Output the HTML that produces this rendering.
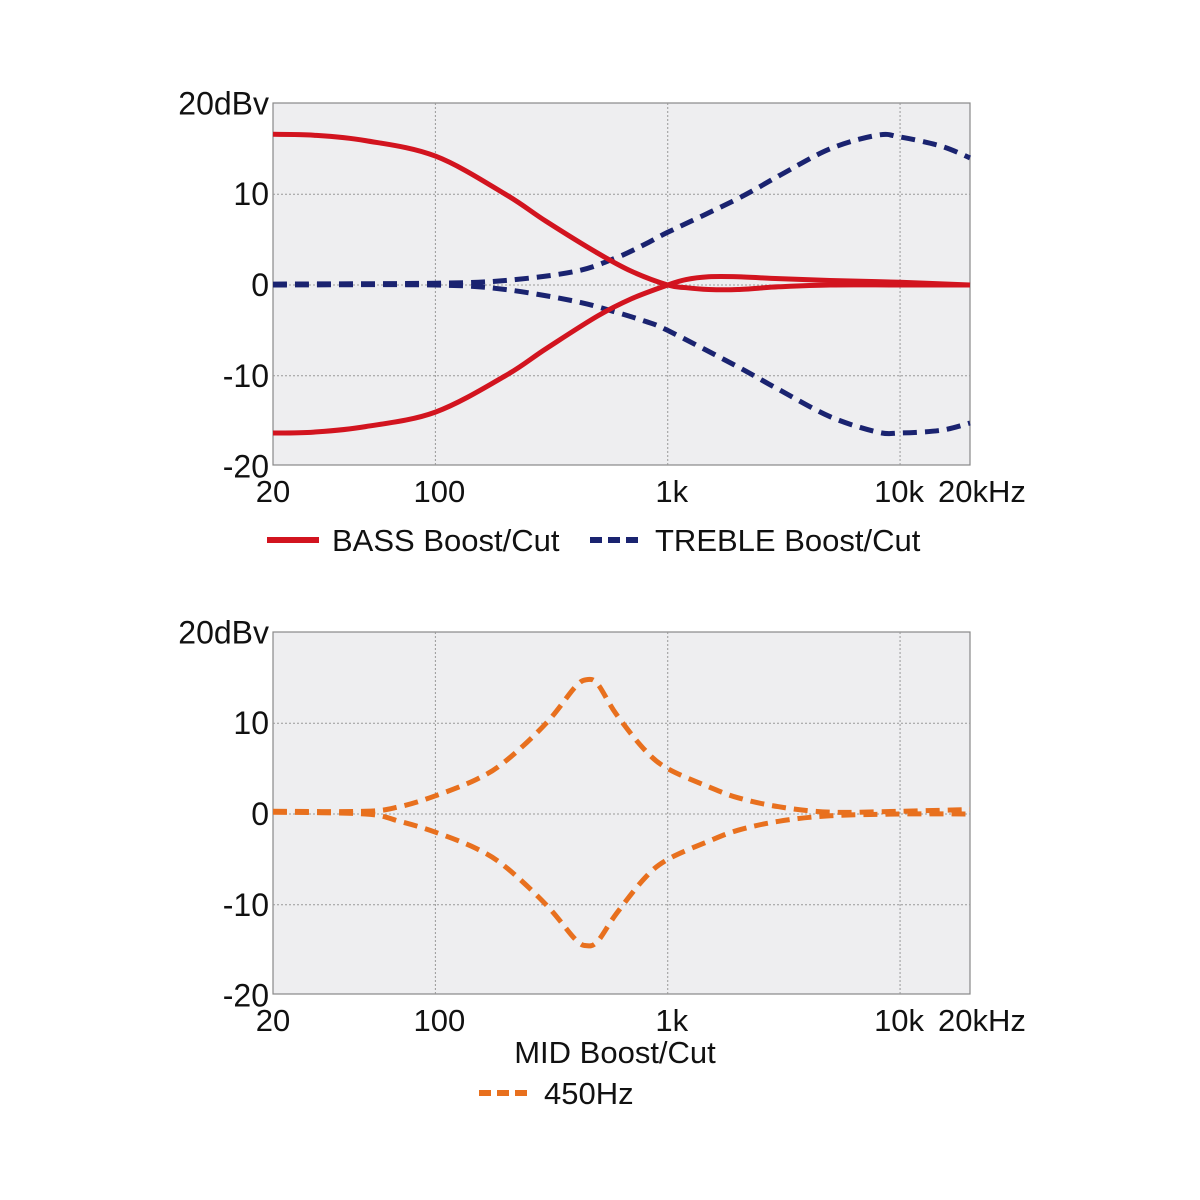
<!DOCTYPE html>
<html><head><meta charset="utf-8"><style>
html,body{margin:0;padding:0;background:#fff;}
svg{display:block;font-family:"Liberation Sans",sans-serif;}
</style></head><body>
<svg id="chart" width="1200" height="1200" viewBox="0 0 1200 1200" xmlns="http://www.w3.org/2000/svg"></svg>
<script>
const freqTicks = [20, 100, 1000, 10000, 20000];
const freqTickLabels = ["20", "100", "1k", "10k", "20kHz"];
const dbTicks = [20, 10, 0, -10, -20];
const dbTickLabels = ["20dBv", "10", "0", "-10", "-20"];

const bassFreq = [20, 30, 50, 100, 200, 300, 500, 700, 1000, 1200, 1500, 2000, 3000, 5000, 10000, 20000];
const bassBoost = [16.6, 16.5, 15.9, 14.2, 10, 7, 3.5, 1.5, 0, -0.3, -0.5, -0.5, -0.2, 0, 0, 0];
const bassCut = [-16.3, -16.2, -15.6, -14, -10, -7, -3.4, -1.5, 0, 0.6, 0.9, 0.9, 0.7, 0.5, 0.3, 0];

const trebleFreq = [20, 100, 200, 400, 600, 800, 1000, 2000, 3000, 5000, 8000, 10000, 15000, 20000];
const trebleBoost = [0.1, 0.2, 0.5, 1.5, 3, 4.5, 5.8, 9.5, 12, 15, 16.5, 16.3, 15.3, 14];
const trebleCut = [0, 0, -0.5, -1.8, -3, -4, -5, -9, -11.5, -14.5, -16.2, -16.3, -16, -15.2];

const midFreq = [20, 50, 70, 100, 150, 200, 300, 400, 450, 500, 600, 800, 1000, 1500, 2000, 3000, 5000, 10000, 20000];
const midBoost = [0.3, 0.3, 0.8, 2, 3.8, 5.8, 10, 14, 14.8, 14.3, 11, 7, 5, 3, 1.8, 0.8, 0.2, 0.3, 0.5];
const midCut = [0.2, 0, -0.8, -2, -3.8, -5.8, -10, -13.8, -14.5, -14, -11, -7, -5, -3, -1.8, -0.8, -0.2, 0, 0];

const NS = "http://www.w3.org/2000/svg";
const svg = document.getElementById("chart");
const X0 = 273, X1 = 970;
function xScale(f){ return X0 + (Math.log10(f) - Math.log10(20)) / 3 * (X1 - X0); }
function make(tag, attrs, parent){
  const el = document.createElementNS(NS, tag);
  for (const k in attrs) el.setAttribute(k, attrs[k]);
  (parent || svg).appendChild(el);
  return el;
}
function pathD(fs, vs, yScale){
  const p = fs.map((f,i)=>[xScale(f), yScale(vs[i])]);
  let d = "M" + p[0][0].toFixed(1) + "," + p[0][1].toFixed(1);
  for (let i=0;i<p.length-1;i++){
    const a=p[i-1]||p[i], b=p[i], c=p[i+1], e=p[i+2]||c;
    const c1=[b[0]+(c[0]-a[0])/6, b[1]+(c[1]-a[1])/6];
    const c2=[c[0]-(e[0]-b[0])/6, c[1]-(e[1]-b[1])/6];
    d += "C"+c1[0].toFixed(1)+","+c1[1].toFixed(1)+" "+c2[0].toFixed(1)+","+c2[1].toFixed(1)+" "+c[0].toFixed(1)+","+c[1].toFixed(1);
  }
  return d;
}
function panel(top, name){
  const zero = top + 182, k = 9.08;
  const yScale = v => zero - v * k;
  const g = make("g", {});
  
  
  const bg = make("rect", {x:X0, y:top, width:X1-X0, height:362, fill:"#eeeef0", stroke:"#888", "stroke-width":1.2}, g);
  
  
  [10,0,-10].forEach(v=>{
    const l = make("line",{x1:X0,x2:X1,y1:yScale(v),y2:yScale(v),stroke:"#999","stroke-width":1,"stroke-dasharray":"2,2"},g);
    
    
  });
  [100,1000,10000].forEach(f=>{
    const l = make("line",{x1:xScale(f),x2:xScale(f),y1:top,y2:top+362,stroke:"#999","stroke-width":1,"stroke-dasharray":"2,2"},g);
    
    
  });
  dbTicks.forEach((v,i)=>{
    const t = make("text",{x:269,y:yScale(v)+11,"text-anchor":"end","font-size":32,fill:"#111"},g);
    t.textContent = dbTickLabels[i];
    
    
  });
  freqTicks.forEach((f,i)=>{
    const anchor = i===4 ? "start" : "middle";
    const x = i===4 ? 938 : xScale(f) + (i===0?0:(i===3?-1:4));
    const t = make("text",{x:x,y:top+399,"text-anchor":anchor,"font-size":31,fill:"#111"},g);
    t.textContent = freqTickLabels[i];
    
    
  });
  return {g, yScale};
}
function series(p, fs, vs, color, dash, name){
  const path = make("path",{d:pathD(fs,vs,p.yScale),fill:"none",stroke:color,"stroke-width":5,"stroke-dasharray":dash||"none"},p.g);
  
  
}
const RED="#d2141f", NAVY="#1a2370", ORANGE="#e8701e";
const p1 = panel(103, "bass-treble-chart");
series(p1, trebleFreq, trebleBoost, NAVY, "14,8", "treble-boost-line");
series(p1, trebleFreq, trebleCut, NAVY, "14,8", "treble-cut-line");
series(p1, bassFreq, bassBoost, RED, null, "bass-boost-line");
series(p1, bassFreq, bassCut, RED, null, "bass-cut-line");
const p2 = panel(632, "mid-chart");
series(p2, midFreq, midBoost, ORANGE, "14,8", "mid-boost-line");
series(p2, midFreq, midCut, ORANGE, "14,8", "mid-cut-line");

function legend(x, y, color, dash, label, name){
  const g = make("g",{});
  
  
  make("line",{x1:x,x2:x+52,y1:y,y2:y,stroke:color,"stroke-width":6,"stroke-dasharray":dash||"none"},g);
  const t = make("text",{x:x+65,y:y+11,"font-size":31,fill:"#111"},g);
  t.textContent = label;
}
legend(267, 540, RED, null, "BASS Boost/Cut", "legend-bass");
legend(590, 540, NAVY, "12,6", "TREBLE Boost/Cut", "legend-treble");
const mt = make("text",{x:615,y:1063,"text-anchor":"middle","font-size":31,fill:"#111"});
mt.textContent = "MID Boost/Cut";


legend(479, 1093, ORANGE, "12,6", "450Hz", "legend-mid");
</script>
</body></html>
